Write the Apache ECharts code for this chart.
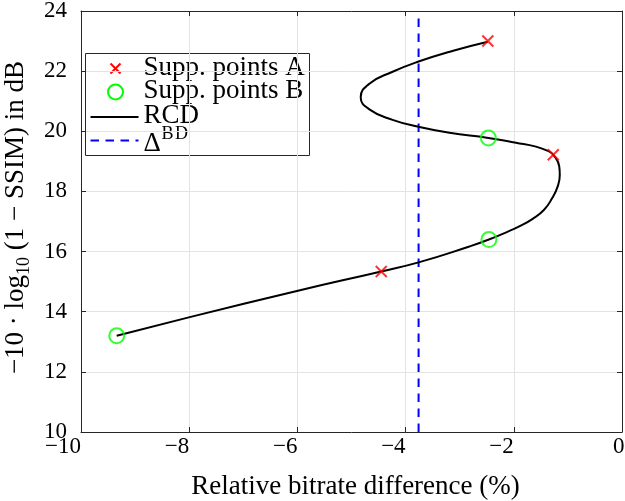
<!DOCTYPE html>
<html>
<head>
<meta charset="utf-8">
<script src="https://cdn.jsdelivr.net/npm/echarts@6/dist/echarts.min.js"></script>
<style>
  html, body { margin: 0; padding: 0; background: #fff; }
  #chart { width: 625px; height: 501px; }
</style>
</head>
<body>
<div id="chart"></div>
<script>
// Rate-quality curve (RCD) sampled along its path, bottom to top
const rcdX = [-9.34, -7.99, -5.99, -4.45, -3.76, -2.82, -2.46, -2.09, -1.90, -1.65, -1.44, -1.29, -1.19, -1.15, -1.16, -1.27, -1.35, -1.59, -1.96, -2.47, -3.19, -3.76, -4.24, -4.67, -4.83, -4.67, -4.24, -3.76, -3.12, -2.48];
const rcdY = [13.20, 13.82, 14.70, 15.34, 15.64, 16.17, 16.40, 16.68, 16.84, 17.09, 17.39, 17.78, 18.16, 18.55, 18.83, 19.22, 19.33, 19.49, 19.62, 19.78, 19.95, 20.15, 20.38, 20.73, 21.13, 21.58, 21.98, 22.32, 22.68, 22.98];

// Support points
const suppAX = [-2.48, -1.27, -4.45];
const suppAY = [23.00, 19.22, 15.34];
const suppBX = [-2.47, -2.46, -9.34];
const suppBY = [19.78, 16.40, 13.20];

// Bjontegaard delta
const deltaBD = [-3.76];

// Axis ranges and tick step
const xRange = [-10, 0];
const yRange = [10, 24];
const tickStep = 2;

const FONT = '"Liberation Serif", "DejaVu Serif", serif';
const AXIS_COLOR = '#262626';
const GRID_COLOR = '#e3e3e3';

const zip = (xs, ys) => xs.map((x, i) => [x, ys[i]]);
const fmt = v => (v < 0 ? '\u2212' + (-v) : String(v));

// zero label is nudged so it sits a little right of a right-aligned position
const fmtX = v => (v === 0 ? '{z|0}' : '\u2212' + (-v));

const chart = echarts.init(document.getElementById('chart'), null, { renderer: 'canvas' });

const baseAxis = {
  interval: tickStep,
  axisLine: { show: true, onZero: false, lineStyle: { color: AXIS_COLOR, width: 1 } },
  axisTick: { show: true, inside: true, length: 5, lineStyle: { color: AXIS_COLOR } },
};

const option = {
  animation: false,
  backgroundColor: '#fff',
  textStyle: { fontFamily: FONT },
  grid: { left: 81, right: 3, top: 11, bottom: 69, containLabel: false, outerBoundsMode: 'none' },
  xAxis: [
    Object.assign({}, baseAxis, {
      type: 'value', position: 'bottom', min: xRange[0], max: xRange[1],
      axisLabel: {
        formatter: fmtX, fontFamily: FONT, fontSize: 23, color: '#000', margin: 3, align: 'right',
        rich: {
          z: { fontFamily: FONT, fontSize: 23, color: '#000', width: 9, align: 'left' }
        }
      },
      splitLine: { show: true, lineStyle: { color: GRID_COLOR, width: 1 } },
      name: 'Relative bitrate difference (%)',
      nameLocation: 'middle', nameGap: 41,
      nameTextStyle: { fontFamily: FONT, fontSize: 27, color: '#000', padding: [0, 0, 0, 8] }
    }),
    Object.assign({}, baseAxis, {
      type: 'value', position: 'top', min: xRange[0], max: xRange[1],
      axisLabel: { show: false }, splitLine: { show: false }
    })
  ],
  yAxis: [
    Object.assign({}, baseAxis, {
      type: 'value', position: 'left', min: yRange[0], max: yRange[1],
      axisLabel: { formatter: fmt, fontFamily: FONT, fontSize: 23, color: '#000', margin: 14 },
      splitLine: { show: true, lineStyle: { color: GRID_COLOR, width: 1 } },
      name: '{m|\u221210 \u00b7 log}{s|10}{m| (1 \u2212 SSIM) in dB}',
      nameLocation: 'middle', nameGap: 46, nameRotate: 90,
      nameTextStyle: {
        fontFamily: FONT, fontSize: 27, color: '#000', padding: [0, 0, 0, 8],
        rich: {
          m: { fontFamily: FONT, fontSize: 27, color: '#000', lineHeight: 35 },
          s: { fontFamily: FONT, fontSize: 18, color: '#000', lineHeight: 35, verticalAlign: 'bottom' }
        }
      }
    }),
    Object.assign({}, baseAxis, {
      type: 'value', position: 'right', min: yRange[0], max: yRange[1],
      axisLabel: { show: false }, splitLine: { show: false }
    })
  ],
  series: [
    {
      name: 'BD', type: 'line', xAxisIndex: 0, yAxisIndex: 0,
      data: [[deltaBD[0], yRange[0]], [deltaBD[0], yRange[1]]],
      symbol: 'none', silent: true, z: 2,
      lineStyle: { color: '#0000ff', width: 2, type: [8.5, 6.5] }
    },
    {
      name: 'RCD', type: 'line', xAxisIndex: 0, yAxisIndex: 0,
      data: zip(rcdX, rcdY), symbol: 'none', smooth: 0.5, silent: true, z: 3,
      lineStyle: { color: '#000', width: 2 }
    },
    {
      name: 'Supp. points A', type: 'scatter', xAxisIndex: 0, yAxisIndex: 0,
      data: zip(suppAX, suppAY), z: 5,
      symbol: 'path://M0,0L10,10M10,0L0,10', symbolSize: 11,
      itemStyle: { color: 'rgba(0,0,0,0)', borderColor: '#ff0000', borderWidth: 2 }
    },
    {
      name: 'Supp. points B', type: 'scatter', xAxisIndex: 0, yAxisIndex: 0,
      data: zip(suppBX, suppBY), z: 5,
      symbol: 'circle', symbolSize: 15,
      itemStyle: { color: 'rgba(0,0,0,0)', borderColor: '#00ff00', borderWidth: 2 }
    }
  ],
  graphic: [
    {
      type: 'group', left: 85, top: 53, z: 100,
      children: [
        { type: 'rect', shape: { x: 0, y: 0, width: 224, height: 102 },
          style: { fill: '#fff', stroke: AXIS_COLOR, lineWidth: 1 } },
        // red cross
        { type: 'polyline', shape: { points: [[25, 10], [35, 20]] }, style: { stroke: '#ff0000', lineWidth: 2, fill: null } },
        { type: 'polyline', shape: { points: [[35, 10], [25, 20]] }, style: { stroke: '#ff0000', lineWidth: 2, fill: null } },
        { type: 'text', x: 58, y: 14, style: { text: 'Supp. points A', font: '27px ' + FONT, fill: '#000', verticalAlign: 'middle' } },
        // green circle
        { type: 'circle', shape: { cx: 30, cy: 38.5, r: 7.5 }, style: { stroke: '#00ff00', lineWidth: 2, fill: null } },
        { type: 'text', x: 58, y: 37.5, style: { text: 'Supp. points B', font: '27px ' + FONT, fill: '#000', verticalAlign: 'middle' } },
        // RCD line
        { type: 'line', shape: { x1: 5, y1: 63.5, x2: 53, y2: 63.5 }, style: { stroke: '#000', lineWidth: 2 } },
        { type: 'text', x: 58, y: 62.5, style: { text: 'RCD', font: '27px ' + FONT, fill: '#000', verticalAlign: 'middle' } },
        // BD dashed line
        { type: 'line', shape: { x1: 5, y1: 87, x2: 53, y2: 87 }, style: { stroke: '#0000ff', lineWidth: 2, lineDash: [8.5, 6.5] } },
        { type: 'text', x: 58, y: 90, style: { text: '\u0394', font: '27px ' + FONT, fill: '#000', verticalAlign: 'middle' } },
        { type: 'text', x: 76, y: 81, style: { text: 'B', font: '18px ' + FONT, fill: '#000', verticalAlign: 'middle' } },
        { type: 'text', x: 89.5, y: 81, style: { text: 'D', font: '18px ' + FONT, fill: '#000', verticalAlign: 'middle' } }
      ]
    }
  ]
};

chart.setOption(option);
</script>
</body>
</html>
